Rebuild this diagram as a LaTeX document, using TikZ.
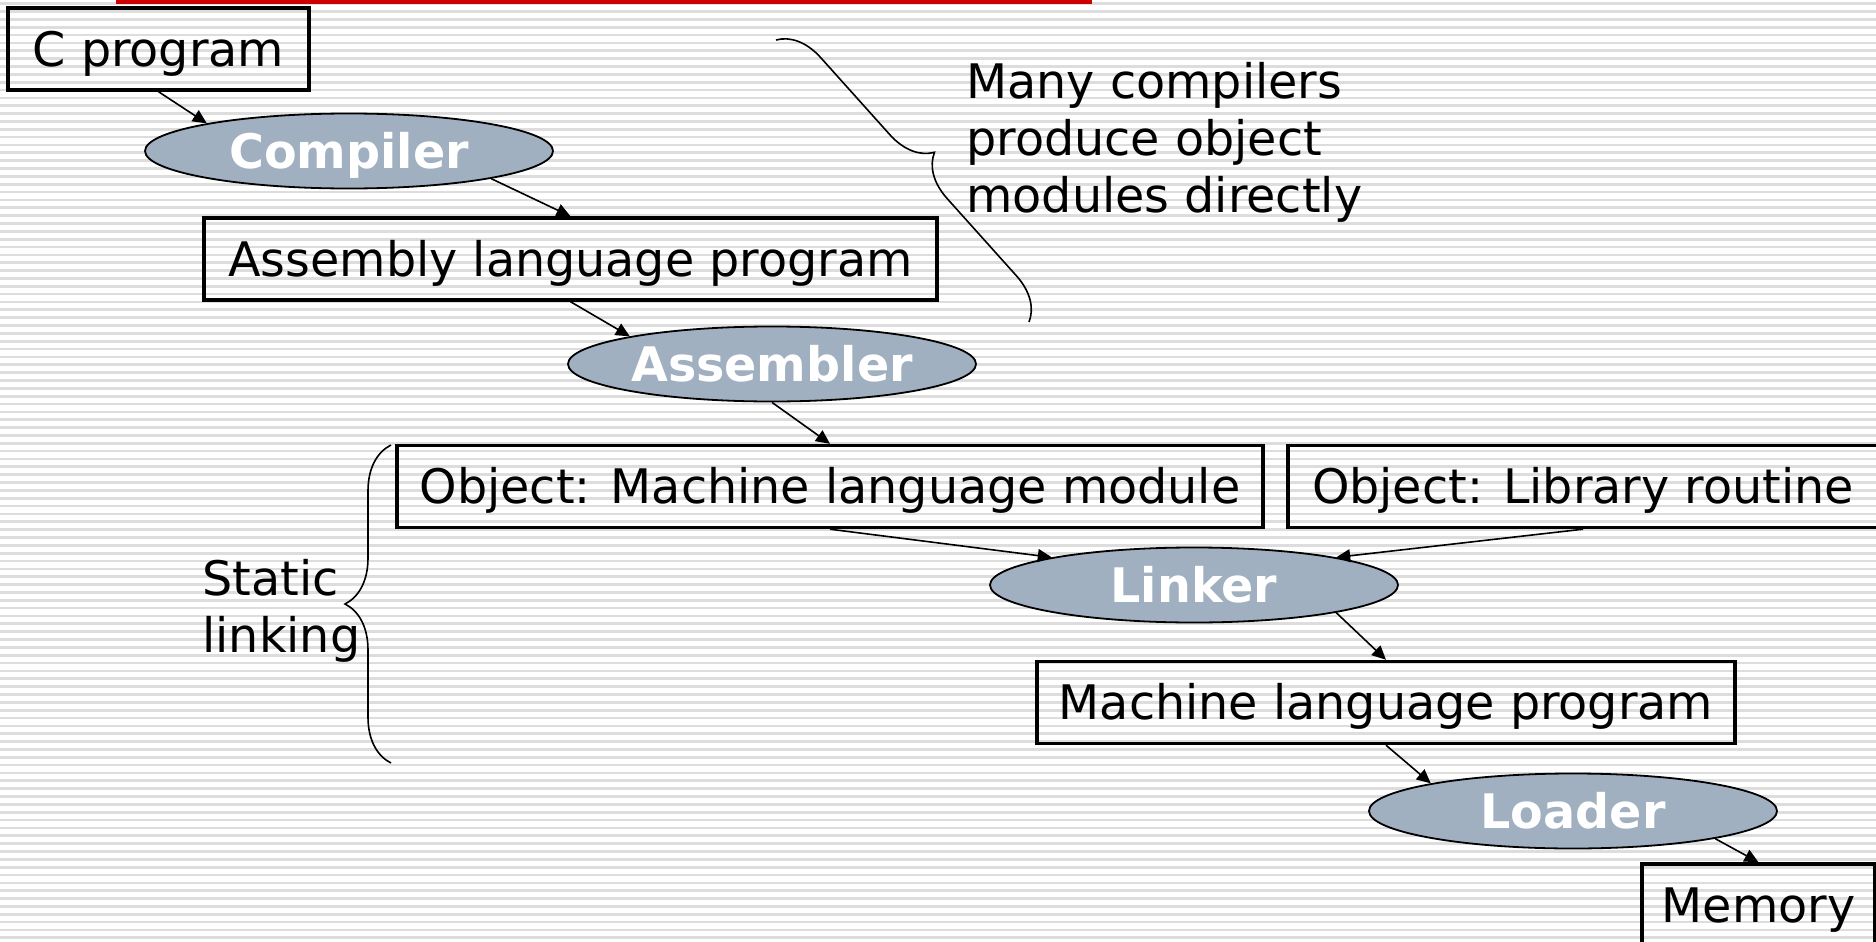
\documentclass[tikz,border=0pt]{standalone}
\usepackage{fontspec}
\setmainfont{DejaVu Sans}
\usetikzlibrary{shapes.geometric, arrows.meta, decorations.pathreplacing}
\definecolor{stepColor}{RGB}{161,176,192}
\definecolor{stripeColor}{RGB}{221,221,221}
\definecolor{titleColor}{RGB}{204,0,0}
\newcommand{\slideFont}{\fontsize{23.8}{28.5}\selectfont}
\tikzstyle{slide} = [x = 0.5pt, y = -0.5pt, every node/.style = {font = \slideFont}]
\tikzstyle{fileBox} = [draw, line width = 1.7pt, inner sep = 0pt, minimum height = 41pt, text height = 17.4pt, text depth = 0pt]
\tikzstyle{toolStep} = [ellipse, draw, line width = .9pt, fill = stepColor, text = white, font = \slideFont\bfseries, inner sep = 0pt, minimum width = 204pt, minimum height = 37.5pt, text height = 17.4pt, text depth = 0pt]
\tikzstyle{flowLine} = [line width = .8pt, -{Triangle[length = 7pt, width = 6.5pt]}]
\tikzstyle{braceLine} = [line width = .8pt, decorate]
\tikzstyle{noteText} = [align = left, inner sep = 0pt, anchor = north west]
\newcommand{\stripe}[1]{\fill [stripeColor] (0, #1) rectangle + (1876, 2.7);}
\newcommand{\stripes}[1]{
  \foreach \row in {0,...,#1} {
    \pgfmathsetmacro{\var}{2.3 + 7.85 * \row}
    \stripe{\var}
  }
}
\newcommand{\fileNode}[5]{\node [fileBox, minimum width = #4] (#1) at (#2, #3) {#5};}
\newcommand{\toolNode}[4]{\node [toolStep] (#1) at (#2, #3) {#4};}

\begin{document}
\begin{tikzpicture}[slide]
  \useasboundingbox (0, 0) rectangle (1876, 942);
  \clip (0, 0) rectangle (1876, 942);
  \fill [white] (0, 0) rectangle (1876, 942);
  \stripes{119}
  \fill [titleColor] (116, 0) rectangle (1092, 3.5);

  \fileNode{cProgram}{158.5}{49}{150.5pt}{C program}
  \toolNode{compiler}{349}{151}{Compiler}
  \fileNode{asmProgram}{570.5}{259}{366.5pt}{Assembly language program}
  \toolNode{assembler}{772}{364}{Assembler}
  \fileNode{objModule}{830}{486.5}{433pt}{Object: Machine language module}
  \fileNode{libRoutine}{1583}{486.5}{295pt}{Object: Library routine}
  \toolNode{linker}{1194}{585}{Linker}
  \fileNode{mlProgram}{1386}{702.5}{349pt}{Machine language program}
  \toolNode{loader}{1573}{811}{Loader}
  \fileNode{memory}{1758.5}{905}{116.5pt}{Memory}

  \draw [flowLine] (cProgram.south) -- (compiler.169);
  \draw [flowLine] (compiler.349) -- (asmProgram.north);
  \draw [flowLine] (asmProgram.south) -- (assembler.169);
  \draw [flowLine] (assembler.south) -- (objModule.north);
  \draw [flowLine] (objModule.south) -- (linker.169);
  \draw [flowLine] (libRoutine.south) -- (linker.11);
  \draw [flowLine] (linker.349) -- (mlProgram.north);
  \draw [flowLine] (mlProgram.south) -- (loader.169);
  \draw [flowLine] (loader.349) -- (memory.north);

  % braces
  \coordinate (noteTop) at (776, 40);
  \coordinate (noteBottom) at (1029, 322);
  \draw [braceLine, decoration = {brace, amplitude = 21.5pt}] (noteTop) -- (noteBottom);
  \node [noteText] (note) at (966, 62) {Many compilers\\produce object\\modules directly};
  \coordinate (linkTop) at (391, 445);
  \coordinate (linkBottom) at (391, 763);
  \draw [braceLine, decoration = {brace, amplitude = 23pt}] (linkBottom) -- (linkTop);
  \node [noteText] (staticLink) at (202, 559) {Static\\linking};
\end{tikzpicture}
\end{document}
